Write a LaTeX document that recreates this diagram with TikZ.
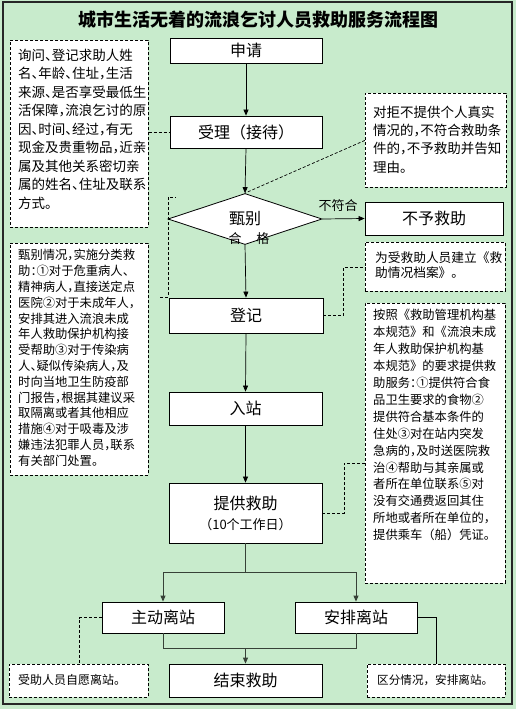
\documentclass[tikz,border=0pt]{standalone}
\usepackage{fontspec}
\newfontfamily\cjk{Noto Sans CJK SC}
\newfontfamily\cjkh[RawFeature=+halt]{Noto Sans CJK SC}
\newcommand\fwid[1]{{\cjk #1}}
\usetikzlibrary{shapes.geometric,arrows.meta,calc}
\definecolor{bggreen}{RGB}{200,235,204}
\definecolor{darkln}{RGB}{55,65,55}
\tikzset{
 mainbox/.style={draw=black, fill=white, line width=0.8pt, inner sep=0pt, font=\cjk\fontsize{16}{19}\selectfont},
 dbox/.style={draw=black, fill=white, line width=0.7pt, dash pattern=on 3pt off 2pt, inner sep=0pt, anchor=north west},
 dtext/.style={anchor=north west, inner sep=0pt, align=left},
 arr/.style={-{Triangle[length=6pt,width=5pt]}, line width=0.7pt},
 dline/.style={line width=0.7pt, dash pattern=on 3pt off 2pt},
 lbl/.style={inner sep=0pt, font=\cjk\fontsize{13}{15}\selectfont},
}
\begin{document}
\begin{tikzpicture}[x=1pt,y=-1pt]
\useasboundingbox (0,0) rectangle (516,709);
\fill[bggreen] (0,0) rectangle (516,709);
\draw[line width=1.2pt, black!85] (3,2) rectangle (512,704);

\node[font=\cjk\bfseries\fontsize{18}{20}\selectfont] (title) at (258,20) {城市生活无着的流浪乞讨人员救助服务流程图};

% main boxes
\node[mainbox, minimum width=152pt, minimum height=25pt] (s1) at (246,50.5) {申请};
\node[mainbox, minimum width=152pt, minimum height=32pt] (s2) at (246,132) {受理（接待）};
\node[diamond, draw=black, fill=white, line width=0.8pt, minimum width=154pt, minimum height=51pt, inner sep=0pt, font=\cjk\fontsize{16}{19}\selectfont] (d) at (245,219) {甄别};
\node[mainbox, minimum width=154pt, minimum height=35pt] (s3) at (246,315.5) {登记};
\node[mainbox, minimum width=153pt, minimum height=33pt] (s4) at (245.5,408.5) {入站};
\node[mainbox, minimum width=153pt, minimum height=60pt, align=center] (s5) at (245.5,513) {提供救助\\[1pt]{\fontsize{13}{15}\selectfont （10个工作日）}};
\node[mainbox, minimum width=138pt, minimum height=33pt] (s6) at (434,218.5) {不予救助};
\node[mainbox, minimum width=122pt, minimum height=31pt] (s7) at (163,617.5) {主动离站};
\node[mainbox, minimum width=122pt, minimum height=31pt] (s8) at (356,617.5) {安排离站};
\node[mainbox, minimum width=153pt, minimum height=33pt] (s9) at (245.5,680.5) {结束救助};

% dashed note boxes
\node[dbox, minimum width=138pt, minimum height=187pt] (n1) at (10,40) {};
\node[dtext, font=\cjkh\fontsize{13.5}{18.5}\selectfont] (t1) at (18,48.5) {询问、登记求助人姓\\名、年龄、住址，生活\\来源、是否享受最低生\\活保障，流浪乞讨的原\\因、时间、经过，有无\\现金及贵重物品，近亲\\属及其他关系密切亲\\属的姓名、住址及联系\\方式。};

\node[dbox, minimum width=138pt, minimum height=232pt] (n2) at (10,243) {};
\node[dtext, font=\cjkh\fontsize{12.3}{15.8}\selectfont] (t2) at (18,249.3) {甄别情况，实施分类救\\助：①对于危重病人、\\精神病人，直接送定点\\医院②对于未成年人，\\安排其进入流浪未成\\年人救助保护机构接\\受帮助③对于传染病\\人、疑似传染病人，及\\时向当地卫生防疫部\\门报告，根据其建议采\\取隔离或者其他相应\\措施④对于吸毒及涉\\嫌违法犯罪人员，联系\\有关部门处置。};

\node[dbox, minimum width=141pt, minimum height=94pt] (n3) at (365,93) {};
\node[dtext, font=\cjkh\fontsize{13.5}{18.3}\selectfont] (t3) at (373,105.5) {对拒不提供个人真实\\情况的，不符合救助条\\件的，不予救助并告知\\理由。};

\node[dbox, minimum width=140pt, minimum height=49pt] (n4) at (365,242) {};
\node[dtext, font=\cjkh\fontsize{12.7}{15}\selectfont] (t4) at (375,252) {为受救助人员建立\fwid{《}救\\助情况档案\fwid{》}。};

\node[dbox, minimum width=140pt, minimum height=280pt] (n5) at (365,303) {};
\node[dtext, font=\cjkh\fontsize{12.3}{16.9}\selectfont] (t5) at (373,309.3) {按照\fwid{《}救助管理机构基\\本规范\fwid{》}和\fwid{《}流浪未成\\年人救助保护机构基\\本规范\fwid{》}的要求提供救\\助服务：①提供符合食\\品卫生要求的食物②\\提供符合基本条件的\\住处③对在站内突发\\急病的，及时送医院救\\治④帮助与其亲属或\\者所在单位联系⑤对\\没有交通费返回其住\\所地或者所在单位的，\\提供乘车\fwid{（}船\fwid{）}凭证。};

\node[dbox, minimum width=139pt, minimum height=33pt] (n6) at (9,664) {};
\node[dtext, font=\cjkh\fontsize{12}{14}\selectfont] (t6) at (18,674.5) {受助人员自愿离站。};
\node[dbox, minimum width=138pt, minimum height=33pt] (n7) at (367,664) {};
\node[dtext, font=\cjk\fontsize{11.6}{14}\selectfont] (t7) at (377,674.7) {区分情况，安排离站。};

% main flow arrows
\draw[arr] (s1.south) -- (s2.north);
\draw[arr] (s2.south) -- (d.north);
\draw[arr] (d.south) -- (s3.north);
\draw[arr] (d.east) -- (s6.west);
\draw[arr] (s3.south) -- (s4.north);
\draw[arr] (s4.south) -- (s5.north);

\node[lbl] (lno) at (338,206) {不符合};
\node[lbl] (lok) at (249,239) {合\hspace{15pt}格};

% bottom branching
\coordinate (j1) at (245.5,572);
\coordinate (j2) at (245.5,648);
\draw[darkln, line width=0.9pt] (s5.south) -- (j1);
\draw[arr, darkln, line width=0.9pt] (j1) -| (s7.north);
\draw[arr, darkln, line width=0.9pt] (j1) -| (s8.north);
\draw[darkln, line width=0.9pt] (s7.south) |- (j2);
\draw[darkln, line width=0.9pt] (s8.south) |- (j2);
\draw[arr, darkln, line width=0.9pt] (j2) -- (s9.north);

% note connectors
\draw[dline] (n1.east |- s2.west) -- (s2.west);
\draw[dline] (n3.west) -- (d.north);
\coordinate (k1) at (160,297);
\coordinate (k2) at (168,297);
\coordinate (k3) at (168,197);
\coordinate (k4) at (176,197);
\draw[dline] (k1) -- (k2) -- (k3) -- (k4);
\draw[dline] (s3.east) -- ++(20,0) |- (n4.west);
\coordinate (n5a) at (365,463);
\draw[dline] (s5.east) -- ++(22,0) |- (n5a);
\draw[dline] (s7.west) -| (n6.north);
\draw[line width=0.7pt] (s8.east) -| (n7.north);
\end{tikzpicture}
\end{document}
